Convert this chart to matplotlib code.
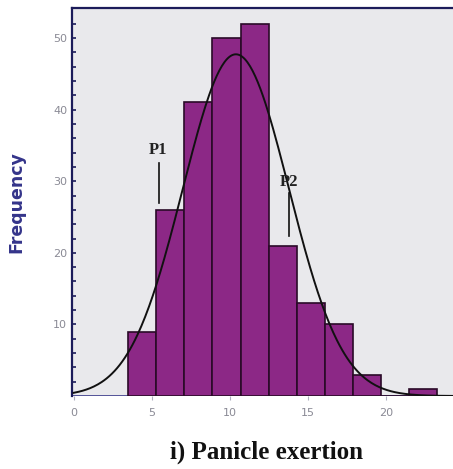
import numpy as np
import matplotlib
matplotlib.use("Agg")
import matplotlib.pyplot as plt

# histogram bins (lower edges) and counts
bin_edges = [3.5, 5.3, 7.1, 8.9, 10.7, 12.5, 14.3, 16.1, 17.9, 19.7, 21.5, 23.3]
counts    = [9, 26, 41, 50, 52, 21, 13, 10, 3, 0, 1]

# fitted normal curve parameters
MEAN = 10.4
SD   = 3.4
N    = sum(counts)

xticks = [0, 5, 10, 15, 20]
yticks = [10, 20, 30, 40, 50]

markers = [("P1", 5.45, 26.9, 32.5, 5.4, 34.4),
           ("P2", 13.8, 22.3, 28.3, 13.8, 29.9)]

fig = plt.figure(figsize=(4.53, 4.69), dpi=100)
ax = fig.add_axes([72 / 453, 1 - 396 / 469, 1 - 72 / 453 + 0.01, (396 - 8) / 469])
ax.set_facecolor("#e9e9ec")

widths = np.diff(bin_edges)
ax.bar(bin_edges[:-1], counts, width=widths, align="edge",
       color="#8c2886", edgecolor="#2a0a28", linewidth=1.2, zorder=2)

bw = widths[0]
xs = np.linspace(0, 24.5, 300)
ys = N * bw / (SD * np.sqrt(2 * np.pi)) * np.exp(-0.5 * ((xs - MEAN) / SD) ** 2)
ax.plot(xs, ys, color="#111111", linewidth=1.4, zorder=3)

for name, lx, y0, y1, tx, ty in markers:
    ax.plot([lx, lx], [y0, y1], color="#111111", linewidth=1.2, zorder=4)
    ax.text(tx, ty, name, ha="center", va="center", fontsize=12,
            fontweight="bold", family="Liberation Serif", color="#222222", zorder=4)

ax.set_xlim(-0.1, 24.6)
ax.set_ylim(0, 54.2)
ax.set_xticks(xticks)
ax.set_yticks(yticks)
ax.set_yticks(np.arange(2, 54, 2), minor=True)
ax.set_xticklabels([str(v) for v in xticks], color="#8a8a95", fontsize=8)
ax.set_yticklabels([str(v) for v in yticks], color="#8a8a95", fontsize=8)
ax.tick_params(axis="y", which="both", direction="in", color="#1c1c5a",
               length=3, width=1.2)
ax.tick_params(axis="x", direction="out", color="#b0b0c0", length=3, pad=6)

for side in ["right", "bottom"]:
    ax.spines[side].set_visible(False)
for side in ["left", "top"]:
    ax.spines[side].set_color("#1c1c5a")
    ax.spines[side].set_linewidth(1.6)
ax.axhline(0, color="#3a3a8a", linewidth=1.2, zorder=1)

ax.set_ylabel("Frequency", fontsize=12.5, fontweight="bold", color="#34348a",
              labelpad=20)

fig.text(266 / 453, 1 - 452 / 469, "i) Panicle exertion", ha="center",
         va="center", fontsize=18, fontweight="bold", family="Liberation Serif",
         color="#111111")

fig.savefig("out.png", dpi=100)
